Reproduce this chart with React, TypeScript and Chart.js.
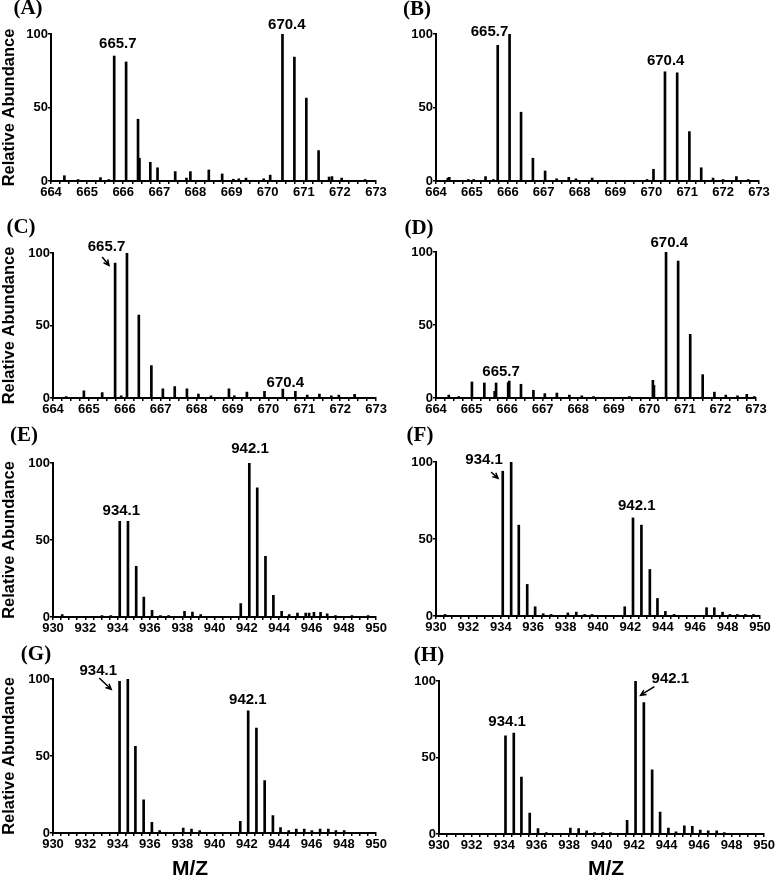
import React, { useEffect, useRef } from "react";
import { Chart, registerables } from "chart.js";

Chart.register(...registerables);

// ---------------- Data (m/z, relative abundance) ----------------
const mzA = [664.37, 664.75, 665.37, 665.6, 665.75, 666.08, 666.41, 666.45, 666.75, 666.95, 667.44, 667.75, 667.86, 668.37, 668.74, 669.05, 669.2, 669.4, 669.89, 670.07, 670.41, 670.74, 671.07, 671.41, 671.7, 671.78, 672.05, 672.7];
const intA = [3.6, 1, 2.3, 1, 85, 81, 42, 15.5, 12.7, 9, 6.4, 2, 6.4, 7.5, 4.8, 1.2, 1.5, 2, 1.5, 4, 100, 84.3, 56.4, 20.7, 2.7, 3, 2, 1];

const mzB = [664.33, 664.37, 664.9, 665.05, 665.38, 665.6, 665.72, 666.05, 666.37, 666.7, 667.04, 667.36, 667.7, 667.9, 668.35, 669.88, 670.06, 670.38, 670.72, 671.06, 671.39, 671.72, 672.0, 672.37, 672.7];
const intB = [2, 2.5, 1, 1, 3, 1, 92.3, 100, 46.8, 15.5, 6.8, 1.5, 2.5, 1.5, 2, 1, 8, 74.3, 73.6, 33.6, 9, 2, 1, 3, 1];

const mzC = [664.37, 664.86, 665.37, 665.73, 665.9, 666.06, 666.39, 666.74, 667.06, 667.39, 667.73, 668.05, 668.4, 668.9, 669.05, 669.4, 669.89, 670.4, 670.75, 671.08, 671.42, 671.75, 671.96, 672.4];
const intC = [1, 5, 3.7, 93, 1.5, 100, 57.2, 22.4, 6.4, 7.8, 6.4, 2.7, 1.5, 6.4, 1.5, 4, 4.6, 6.2, 4.6, 2, 2.7, 1.5, 2, 2.5];

const mzD = [664.36, 664.64, 665.01, 665.36, 665.65, 665.69, 666.03, 666.06, 666.39, 666.74, 667.06, 667.4, 667.75, 668.1, 668.43, 669.44, 670.1, 670.13, 670.47, 670.81, 671.15, 671.5, 671.83, 672.15, 672.48, 672.74, 672.95];
const intD = [2, 1, 11, 10.3, 4.6, 10.3, 10.5, 11.6, 9.4, 5.3, 3, 3.4, 2, 1.5, 1, 1, 12.1, 8.7, 100, 93.8, 43.6, 16, 4, 2, 1.5, 2.5, 1];

const mzE = [930.57, 933.03, 933.58, 934.13, 934.64, 935.15, 935.62, 936.13, 936.65, 937.16, 938.14, 938.63, 939.14, 941.62, 942.15, 942.64, 943.15, 943.64, 944.15, 944.62, 945.13, 945.64, 945.85, 946.15, 946.56, 946.97, 947.48, 948.5, 949.5];
const intE = [1.5, 1, 1, 62.1, 62.1, 32.9, 13, 4.3, 1, 1, 3.7, 3.2, 1.5, 8.7, 100, 83.8, 39.4, 14.1, 3.7, 1.5, 2.5, 2.5, 2.5, 3, 3, 2, 1, 1, 1];

const mzF = [930.56, 934.12, 934.64, 935.11, 935.63, 936.12, 936.62, 937.11, 938.14, 938.66, 939.18, 939.63, 941.65, 942.16, 942.68, 943.2, 943.67, 944.16, 944.7, 946.7, 947.18, 947.69, 948.14, 948.6, 949.1, 949.6];
const intF = [1, 94, 100, 59, 20.5, 6, 1.5, 1, 2, 2.5, 1, 1, 6, 63.7, 59, 30.2, 11.4, 3, 1, 5.4, 5.4, 2.5, 1, 1, 1, 1];

const mzG = [934.12, 934.63, 935.1, 935.61, 936.12, 936.6, 938.06, 938.57, 939.08, 941.59, 942.08, 942.59, 943.1, 943.61, 944.08, 944.59, 945.06, 945.55, 946.02, 946.53, 947.04, 947.51, 948.02];
const intG = [98.5, 100, 56.3, 21.6, 6.9, 1.5, 3.2, 2.5, 1.5, 7.6, 79.4, 68.2, 34, 11.3, 3.5, 1.5, 2.5, 2.5, 1.5, 2.5, 2.5, 1.5, 1.5];

const mzH = [934.09, 934.6, 935.07, 935.58, 936.09, 936.6, 938.08, 938.59, 939.08, 939.57, 940.08, 940.55, 941.57, 942.09, 942.6, 943.11, 943.6, 944.11, 944.58, 945.09, 945.58, 946.07, 946.56, 947.08, 947.55];
const intH = [64.1, 65.9, 37.2, 13.7, 3.5, 1, 3.9, 3.5, 2, 1, 1, 1, 8.9, 100, 85.9, 42, 14.3, 3.9, 1.5, 5.4, 5, 2.5, 2, 2, 1];

// Tick labels
const xLabelsLow = [664, 665, 666, 667, 668, 669, 670, 671, 672, 673];
const xLabelsHigh = [930, 932, 934, 936, 938, 940, 942, 944, 946, 948, 950];
const yLabels = [0, 50, 100];

// Peak annotations (in data units); arrow = [x1, y1, x2, y2]
type Ann = { text: string; x: number; y: number; arrow?: number[] };
const annA: Ann[] = [{ text: "665.7", x: 665.85, y: 93.6 }, { text: "670.4", x: 670.53, y: 106.1 }];
const annB: Ann[] = [{ text: "665.7", x: 665.49, y: 101.4 }, { text: "670.4", x: 670.4, y: 81.4 }];
const annC: Ann[] = [
  { text: "665.7", x: 665.49, y: 104.5, arrow: [665.37, 97.3, 665.56, 91.5] },
  { text: "670.4", x: 670.47, y: 10.3 },
];
const annD: Ann[] = [{ text: "670.4", x: 670.56, y: 106.6 }, { text: "665.7", x: 665.83, y: 18 }];
const annE: Ann[] = [{ text: "942.1", x: 942.19, y: 108.9 }, { text: "934.1", x: 934.23, y: 69 }];
const annF: Ann[] = [
  { text: "934.1", x: 932.97, y: 101.3, arrow: [933.4, 93.5, 933.83, 89.4] },
  { text: "942.1", x: 942.39, y: 71.7 },
];
const annG: Ann[] = [
  { text: "934.1", x: 932.8, y: 105.6, arrow: [932.86, 100.6, 933.6, 93.3] },
  { text: "942.1", x: 942.06, y: 86.4 },
];
const annH: Ann[] = [
  { text: "934.1", x: 934.19, y: 73.3 },
  { text: "942.1", x: 944.23, y: 101.5, arrow: [943.25, 96.3, 942.4, 90.7] },
];

// ---------------- Layout ----------------
type Panel = {
  letter: string;
  mz: number[];
  ab: number[];
  ann: Ann[];
  range: "low" | "high";
  box: [number, number, number, number]; // x, y, w, h (page)
  area: [number, number, number, number]; // l, t, r, b (page)
  letterPos: [number, number]; // center (page)
  yTitle: boolean;
  xTitlePos?: [number, number];
};

const panels: Panel[] = [
  { letter: "(A)", mz: mzA, ab: intA, ann: annA, range: "low", box: [0, 0, 388, 215], area: [51, 34, 376, 181], letterPos: [28, 9], yTitle: true },
  { letter: "(B)", mz: mzB, ab: intB, ann: annB, range: "low", box: [388, 0, 388, 215], area: [436, 34, 759, 181], letterPos: [417, 10], yTitle: false },
  { letter: "(C)", mz: mzC, ab: intC, ann: annC, range: "low", box: [0, 212, 388, 218], area: [53, 253, 377, 398], letterPos: [21, 228], yTitle: true },
  { letter: "(D)", mz: mzD, ab: intD, ann: annD, range: "low", box: [388, 212, 388, 218], area: [436, 252, 756, 398], letterPos: [419, 229], yTitle: false },
  { letter: "(E)", mz: mzE, ab: intE, ann: annE, range: "high", box: [0, 420, 388, 225], area: [53, 463, 379, 617], letterPos: [24, 436], yTitle: true },
  { letter: "(F)", mz: mzF, ab: intF, ann: annF, range: "high", box: [388, 420, 388, 225], area: [436, 462, 760, 616], letterPos: [420, 436], yTitle: false },
  { letter: "(G)", mz: mzG, ab: intG, ann: annG, range: "high", box: [0, 640, 388, 240], area: [53, 679, 380, 833], letterPos: [36, 655], yTitle: true, xTitlePos: [190, 869] },
  { letter: "(H)", mz: mzH, ab: intH, ann: annH, range: "high", box: [388, 640, 388, 240], area: [439, 681, 765, 834], letterPos: [429, 656], yTitle: false, xTitlePos: [606, 869] },
];

const SANS = '"Liberation Sans", Arial, Helvetica, sans-serif';
const SERIF = '"Liberation Serif", "Times New Roman", serif';

function SpectrumPanel({ p }: { p: Panel }) {
  const ref = useRef<HTMLCanvasElement | null>(null);
  useEffect(() => {
    const canvas = ref.current;
    if (!canvas) return;
    const [bx, by, bw, bh] = p.box;
    const [al, at, ar, ab] = p.area;
    const low = p.range === "low";
    const labels = low ? xLabelsLow : xLabelsHigh;
    const xmin = labels[0];
    const xmax = labels[labels.length - 1];
    const minorStep = low ? 0.25 : 0.5;

    const annotPlugin = {
      id: "peakAnnot",
      afterDraw(chart: any) {
        const ctx = chart.ctx as CanvasRenderingContext2D;
        const xs = chart.scales.x;
        const ys = chart.scales.y;
        ctx.save();
        ctx.fillStyle = "#000";
        ctx.strokeStyle = "#000";
        ctx.textAlign = "center";
        ctx.textBaseline = "middle";
        ctx.font = `bold 15px ${SANS}`;
        for (const a of p.ann) {
          ctx.fillText(a.text, xs.getPixelForValue(a.x), ys.getPixelForValue(a.y));
          if (a.arrow) {
            const x1 = xs.getPixelForValue(a.arrow[0]);
            const y1 = ys.getPixelForValue(a.arrow[1]);
            const x2 = xs.getPixelForValue(a.arrow[2]);
            const y2 = ys.getPixelForValue(a.arrow[3]);
            const ang = Math.atan2(y2 - y1, x2 - x1);
            const hl = 6;
            ctx.lineWidth = 1.5;
            ctx.beginPath();
            ctx.moveTo(x1, y1);
            ctx.lineTo(x2, y2);
            ctx.moveTo(x2 - hl * Math.cos(ang - 0.45), y2 - hl * Math.sin(ang - 0.45));
            ctx.lineTo(x2, y2);
            ctx.lineTo(x2 - hl * Math.cos(ang + 0.45), y2 - hl * Math.sin(ang + 0.45));
            ctx.stroke();
          }
        }
        ctx.font = `bold 21px ${SERIF}`;
        ctx.fillText(p.letter, p.letterPos[0] - bx, p.letterPos[1] - by);
        if (p.xTitlePos) {
          ctx.font = `bold 21px ${SANS}`;
          ctx.fillText("M/Z", p.xTitlePos[0] - bx, p.xTitlePos[1] - by);
        }
        ctx.restore();
      },
    };

    const chart = new Chart(canvas, {
      type: "bar",
      data: {
        datasets: [
          {
            data: p.mz.map((m, i) => ({ x: m, y: p.ab[i] })),
            backgroundColor: "#000",
            borderWidth: 0,
            barThickness: 2,
          } as any,
        ],
      },
      options: {
        animation: false,
        responsive: false,
        devicePixelRatio: 1,
        layout: { padding: { left: 0, top: at - by, right: bx + bw - ar, bottom: 0 } },
        plugins: { legend: { display: false }, tooltip: { enabled: false }, title: { display: false } },
        scales: {
          x: {
            type: "linear",
            min: xmin,
            max: xmax,
            offset: false,
            afterFit: (s: any) => {
              s.height = by + bh - ab;
            },
            grid: { display: true, offset: false, drawOnChartArea: false, drawTicks: true, tickLength: 3, color: "#000", lineWidth: 1.5 },
            border: { display: true, color: "#000", width: 2 },
            ticks: {
              stepSize: minorStep,
              maxTicksLimit: 1000,
              autoSkip: false,
              maxRotation: 0,
              minRotation: 0,
              padding: 1,
              color: "#000",
              font: { family: SANS, size: 13, weight: "bold" },
              callback: (v: any) => {
                const n = Number(v);
                const hit = labels.find((l) => Math.abs(l - n) < 1e-6);
                return hit !== undefined ? String(hit) : "";
              },
            },
          },
          y: {
            min: yLabels[0],
            max: yLabels[yLabels.length - 1],
            afterFit: (s: any) => {
              s.width = al - bx;
            },
            grid: { display: true, drawOnChartArea: false, drawTicks: true, tickLength: 3, color: "#000", lineWidth: 1.5 },
            border: { display: true, color: "#000", width: 2 },
            ticks: {
              stepSize: yLabels[1] - yLabels[0],
              padding: 0,
              color: "#000",
              font: { family: SANS, size: 13, weight: "bold" },
            },
            title: {
              display: p.yTitle,
              text: "Relative Abundance",
              color: "#000",
              padding: 0,
              font: { family: SANS, size: 16.5, weight: "bold", lineHeight: 1.1 },
            },
          },
        },
      } as any,
      plugins: [annotPlugin as any],
    });
    return () => chart.destroy();
  }, [p]);

  const [bx, by, bw, bh] = p.box;
  return (
    <canvas
      ref={ref}
      width={bw}
      height={bh}
      style={{ position: "absolute", left: bx, top: by, width: bw, height: bh }}
    />
  );
}

export default function App() {
  return (
    <div style={{ position: "absolute", left: 0, top: 0, width: 776, height: 880, background: "#fff", overflow: "hidden" }}>
      {panels.map((p) => (
        <SpectrumPanel key={p.letter} p={p} />
      ))}
    </div>
  );
}
